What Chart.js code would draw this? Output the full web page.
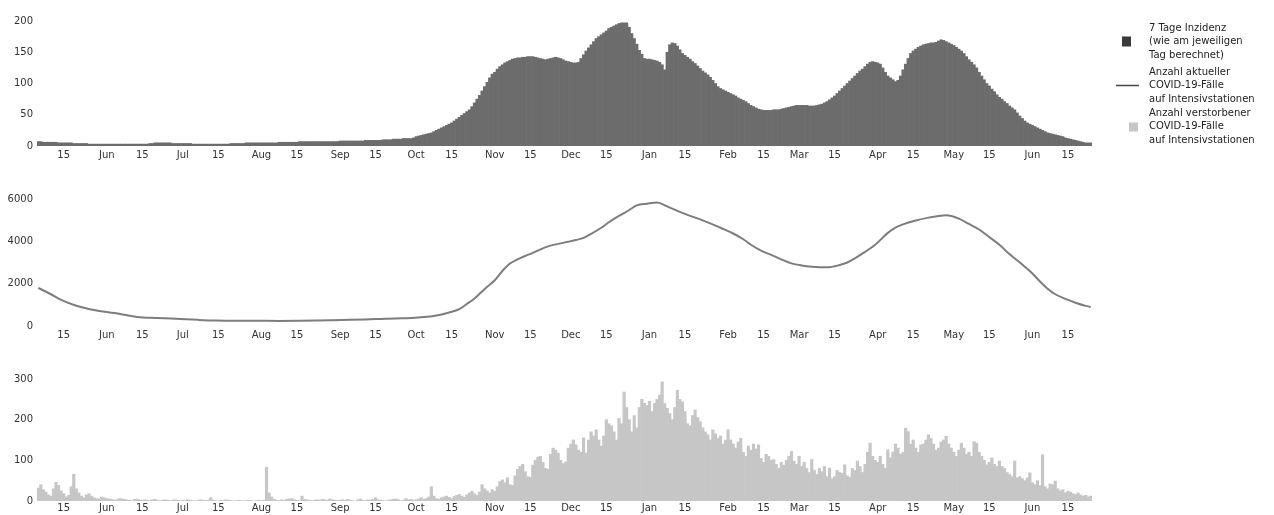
<!DOCTYPE html>
<html>
<head>
<meta charset="utf-8">
<script src="https://cdn.jsdelivr.net/npm/chart.js@4.4.1/dist/chart.umd.min.js"></script>
<style>
html,body{margin:0;padding:0;background:#fff;width:1274px;height:515px;overflow:hidden}
canvas{position:absolute;left:0}
</style>
</head>
<body>
<canvas id="c1" width="1274" height="165" style="top:0px"></canvas>
<canvas id="c2" width="1274" height="170" style="top:175px"></canvas>
<canvas id="c3" width="1274" height="170" style="top:345px"></canvas>
<script>
// ---------- categories ----------
const startDate = '2020-05-05';
const monthNames = ['Jan','Feb','Mar','Apr','May','Jun','Jul','Aug','Sep','Oct','Nov','Dec'];

// ---------- 7-Tage-Inzidenz (daily, per month) ----------
const incMay20 = [7,7,6,6,6,6,6,6,5,5,5,5,5,5,4,4,4,4,4,4,3,3,3,3,3,3,3];
const incJun20 = [3,3,3,3,3,3,3,3,3,3,3,3,3,3,3,3,3,4,4,5,5,5,5,5,5,5,4,4,4,4];
const incJul20 = [4,4,4,4,3,3,3,3,3,3,3,3,3,3,3,3,3,3,3,4,4,4,4,4,4,5,5,5,5,5,5];
const incAug20 = [5,5,5,5,5,5,5,6,6,6,6,6,6,6,6,7,7,7,7,7,7,7,7,7,7,7,7,7,7,7,7];
const incSep20 = [8,8,8,8,8,8,8,8,8,8,9,9,9,9,9,9,9,10,10,10,10,11,11,11,11,12,12,12,12,13];
const incOct20 = [15,16,17,18,19,20,21,23,25,27,29,31,33,35,37,40,43,46,49,52,55,58,63,69,75,81,88,95,102,109,115];
const incNov20 = [118,123,127,130,133,135,137,139,140,141,141,142,142,143,143,143,142,141,140,139,138,139,140,141,142,141,140,138,136,135];
const incDec20 = [134,133,133,134,140,146,152,157,162,167,172,175,178,181,184,188,190,192,194,196,197,197,197,190,180,172,163,153,147,140,139];
const incJan21 = [139,138,137,136,134,130,122,150,162,165,164,160,154,148,145,142,139,135,132,128,124,120,117,114,110,105,100,95,92,90,88];
const incFeb21 = [86,84,82,80,77,75,73,71,68,65,63,61,59,58,57,57,57,57,58,58,58,59,60,61,62,63,64,65];
const incMar21 = [65,65,65,65,64,64,64,65,66,67,69,71,74,77,80,84,88,92,96,100,104,108,112,116,120,123,127,131,134,135,134];
const incApr21 = [133,131,125,118,112,109,106,103,105,112,122,131,140,148,152,155,158,160,162,163,164,165,165,166,168,170,169,167,165,163];
const incMay21 = [161,158,155,152,148,143,138,134,130,125,118,112,106,100,96,91,87,82,78,75,71,68,64,61,58,53,48,44,40,37,35];
const incJun21 = [33,31,29,27,25,23,21,20,19,18,17,16,15,13,12,11,10,9,8,7,6,5,5,5];

// ---------- ICU cases (readings at dates) ----------
const icuDates = ['2020-05-05','2020-05-10','2020-05-14','2020-05-20','2020-05-27','2020-06-04','2020-06-13','2020-06-21','2020-06-30',
 '2020-07-07','2020-07-14','2020-07-22','2020-07-31','2020-08-08','2020-08-16','2020-08-23','2020-08-29','2020-09-05','2020-09-11',
 '2020-09-17','2020-09-23','2020-09-29','2020-10-04','2020-10-09','2020-10-14','2020-10-18','2020-10-21','2020-10-24','2020-10-26',
 '2020-10-29','2020-11-01','2020-11-04','2020-11-07','2020-11-10','2020-11-14','2020-11-18','2020-11-22','2020-11-26','2020-11-30',
 '2020-12-03','2020-12-06','2020-12-09','2020-12-13','2020-12-16','2020-12-20','2020-12-24','2020-12-27','2020-12-31','2021-01-04',
 '2021-01-08','2021-01-12','2021-01-16','2021-01-21','2021-01-25','2021-01-29','2021-02-03','2021-02-07','2021-02-10','2021-02-14',
 '2021-02-18','2021-02-22','2021-02-26','2021-03-02','2021-03-06','2021-03-12','2021-03-17','2021-03-20','2021-03-23','2021-03-27',
 '2021-03-31','2021-04-05','2021-04-08','2021-04-11','2021-04-16','2021-04-21','2021-04-25','2021-04-28','2021-05-03','2021-05-07',
 '2021-05-11','2021-05-15','2021-05-19','2021-05-22','2021-05-25','2021-05-29','2021-06-01','2021-06-04','2021-06-07','2021-06-10',
 '2021-06-14','2021-06-18','2021-06-22','2021-06-24'];
const icuValues = [1800,1500,1230,960,760,610,430,380,330,
 290,260,250,245,240,245,255,270,290,310,
 335,360,380,420,500,640,800,1040,1300,1520,
 1850,2160,2600,2950,3150,3360,3560,3760,3880,3980,
 4060,4160,4350,4640,4900,5200,5480,5700,5780,5840,
 5650,5440,5250,5040,4850,4640,4370,4100,3840,3560,
 3360,3150,2960,2860,2800,2770,2880,3000,3200,3500,
 3840,4400,4650,4800,4980,5120,5200,5230,5070,4820,
 4560,4200,3840,3500,3200,2800,2480,2100,1760,1500,
 1280,1100,950,900];

// ---------- Verstorbene auf ITS (daily, per month) ----------
const dthMay20 = [32,40,28,22,15,12,30,46,38,25,18,10,14,35,66,30,20,12,8,15,18,12,8,6,5,10,8];
const dthJun20 = [6,5,4,2,3,6,5,4,3,2,1,4,5,3,2,3,2,1,3,4,2,1,2,3,2,1,2,3,2,1];
const dthJul20 = [2,1,3,2,1,0,2,3,2,1,2,8,2,1,0,2,1,3,2,1,0,1,2,1,0,1,2,1,0,1,2];
const dthAug20 = [1,2,83,20,10,4,2,1,3,2,4,5,6,3,2,1,12,4,3,2,1,2,3,2,4,3,2,5,3,2,1];
const dthSep20 = [2,3,1,4,2,1,0,3,5,2,1,3,2,4,8,3,2,1,0,2,3,4,5,3,1,2,6,3,4,2];
const dthOct20 = [3,5,8,4,6,10,35,12,6,4,8,10,12,9,6,11,14,16,12,9,15,20,24,18,14,22,40,30,25,20,28];
const dthNov20 = [24,35,48,52,45,57,40,38,62,78,85,90,72,60,58,88,100,108,110,95,80,78,115,130,125,118,100,92,96,130];
const dthDec20 = [140,150,138,125,120,155,118,150,170,160,175,150,135,160,200,190,185,170,150,203,190,268,230,200,170,210,180,230,250,240,235];
const dthJan21 = [245,220,240,250,260,293,240,228,215,200,230,272,250,244,220,190,185,210,224,205,195,180,170,163,150,175,165,154,160,140,150];
const dthFeb21 = [175,150,140,130,145,154,120,110,135,125,140,128,138,105,95,115,110,100,102,90,80,95,88,100,110,122,98,90];
const dthMar21 = [110,85,95,80,70,102,75,65,80,72,85,60,81,55,60,75,70,68,89,62,58,80,75,98,85,70,90,120,142,110,100];
const dthApr21 = [95,110,90,80,126,106,120,140,130,115,120,179,171,140,150,130,120,138,140,150,163,154,140,125,130,145,150,159,140,130];
const dthMay21 = [120,110,125,142,130,115,120,110,146,142,120,110,100,89,95,106,90,85,98,85,80,70,65,60,98,57,60,55,50,57,69];
const dthJun21 = [45,40,50,38,114,35,30,42,40,49,30,25,28,20,24,22,18,16,20,15,12,14,10,12];

// ---------- labels ----------
const legendTexts = [
  ['7 Tage Inzidenz','(wie am jeweiligen','Tag berechnet)'],
  ['Anzahl aktueller','COVID-19-Fälle','auf Intensivstationen'],
  ['Anzahl verstorbener','COVID-19-Fälle','auf Intensivstationen']
];
const colInc = '#6c6c6c', colIncLegend = '#3a3a3a', colIcu = '#7d7d7d', colDth = '#c6c6c6';

const incidence = [].concat(incMay20,incJun20,incJul20,incAug20,incSep20,incOct20,incNov20,incDec20,incJan21,incFeb21,incMar21,incApr21,incMay21,incJun21);
const deaths = [].concat(dthMay20,dthJun20,dthJul20,dthAug20,dthSep20,dthOct20,dthNov20,dthDec20,dthJan21,dthFeb21,dthMar21,dthApr21,dthMay21,dthJun21);

const labels = [];
{
  const d = new Date(startDate + 'T00:00:00Z');
  for (let i = 0; i < incidence.length; i++) {
    labels.push(d.toISOString().slice(0,10));
    d.setUTCDate(d.getUTCDate() + 1);
  }
}
const icuPoints = icuDates.map((x, i) => ({x: x, y: icuValues[i]}));

function tickText(i) {
  const s = labels[i]; if (!s) return null;
  const day = +s.slice(8,10);
  if (day === 1) return monthNames[+s.slice(5,7) - 1];
  if (day === 15) return '15';
  return null;
}

Chart.defaults.font.family = 'DejaVu Sans';
Chart.defaults.font.size = 10;
Chart.defaults.color = '#333';
Chart.defaults.animation = false;

const RIGHT_PAD = 182, Y_WIDTH = 37;

function makeOptions(yMax, yStep, padTop, padBottom, xTickPad) {
  return {
    responsive: false,
    animation: false,
    layout: {padding: {top: padTop, bottom: padBottom, left: 0, right: RIGHT_PAD}},
    plugins: {legend: {display: false}, tooltip: {enabled: false}},
    scales: {
      x: {
        offset: true,
        grid: {display: false, drawTicks: false},
        border: {display: false},
        ticks: {autoSkip: false, maxRotation: 0, minRotation: 0, padding: xTickPad,
          callback: (v, i) => tickText(i)}
      },
      y: {
        min: 0, max: yMax,
        grid: {display: false, drawTicks: false},
        border: {display: false},
        ticks: {stepSize: yStep, padding: 4, callback: (v) => String(v)},
        afterFit: (s) => { s.width = Y_WIDTH; }
      }
    }
  };
}

const sideLegend = {
  id: 'sideLegend',
  afterDraw(chart) {
    const ctx = chart.ctx;
    const tx = chart.chartArea.right + 57;
    const lh = 13.5;
    const firstLines = [28, 72, 113];
    ctx.save();
    ctx.font = '10px "DejaVu Sans"';
    ctx.fillStyle = '#222';
    ctx.textBaseline = 'middle';
    ctx.textAlign = 'left';
    legendTexts.forEach((lines, k) => {
      lines.forEach((t, j) => ctx.fillText(t, tx, firstLines[k] + j * lh));
    });
    const mid = firstLines.map(y => y + lh);
    ctx.fillStyle = colIncLegend;
    ctx.fillRect(tx - 27, mid[0] - 5, 9, 10);
    ctx.strokeStyle = '#444';
    ctx.lineWidth = 1.5;
    ctx.beginPath(); ctx.moveTo(tx - 33, mid[1]); ctx.lineTo(tx - 10, mid[1]); ctx.stroke();
    ctx.fillStyle = colDth;
    ctx.fillRect(tx - 20, mid[2] - 4, 9, 9);
    ctx.restore();
  }
};

new Chart(document.getElementById('c1'), {
  type: 'bar',
  data: {labels: labels, datasets: [{
    label: legendTexts[0].join(' '), data: incidence,
    backgroundColor: colInc, borderWidth: 0, barPercentage: 1, categoryPercentage: 1
  }]},
  options: makeOptions(200, 50, 21, 1, 3),
  plugins: [sideLegend]
});

new Chart(document.getElementById('c2'), {
  type: 'line',
  data: {labels: labels, datasets: [{
    label: legendTexts[1].join(' '), data: icuPoints,
    borderColor: colIcu, borderWidth: 2, pointRadius: 0, fill: false,
    cubicInterpolationMode: 'monotone'
  }]},
  options: makeOptions(6000, 2000, 24, 1, 3)
});

new Chart(document.getElementById('c3'), {
  type: 'bar',
  data: {labels: labels, datasets: [{
    label: legendTexts[2].join(' '), data: deaths,
    backgroundColor: colDth, borderWidth: 0, barPercentage: 1, categoryPercentage: 1
  }]},
  options: makeOptions(300, 100, 34, 0, 1)
});
</script>
</body>
</html>
